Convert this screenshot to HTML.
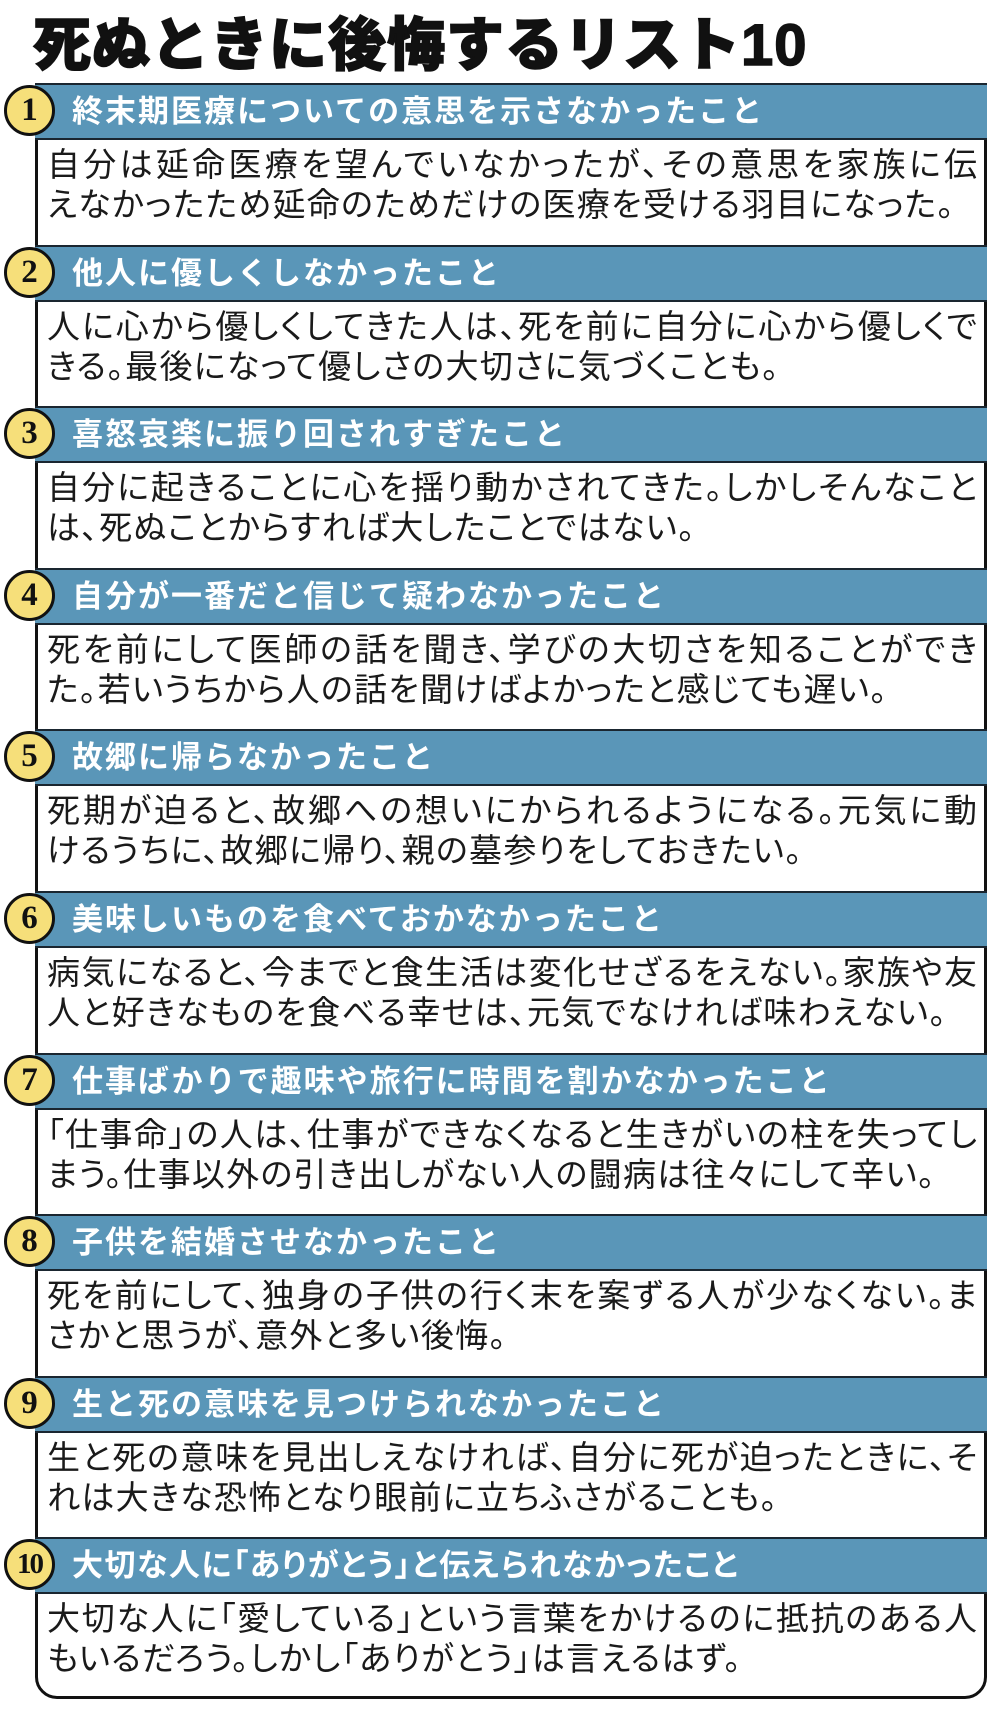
<!DOCTYPE html>
<html><head><meta charset="utf-8"><style>
body{margin:0;width:1000px;height:1716px;background:#fff;position:relative;overflow:hidden;font-family:"Liberation Sans","Noto Sans CJK JP",sans-serif}
.t{position:absolute;left:33px;top:-2px;font-size:58px;font-weight:900;color:#111;letter-spacing:1px;white-space:nowrap;-webkit-text-stroke:1.5px #111}
.box{position:absolute;left:35px;top:83px;width:952px;height:1616px;box-sizing:border-box;border:3px solid #111;border-radius:22px;overflow:hidden}
.h{position:absolute;left:35px;width:952px;height:57px;background:#5a96b8;border-top:2px solid #1a2630;border-bottom:2px solid #1a2630;box-sizing:border-box;color:#fff;font-weight:bold;font-size:31px;line-height:53px;padding-left:37px;letter-spacing:2px;white-space:nowrap}
.h.p{font-feature-settings:"palt";letter-spacing:1.5px}
.c{position:absolute;left:4px;width:45px;height:45px;border:3px solid #111;border-radius:50%;background:#f6df7a;font-family:"Liberation Serif",serif;font-weight:bold;font-size:33px;line-height:45px;text-align:center;color:#111}
.c.s{font-size:29px;letter-spacing:-2px}
.l{position:absolute;left:47px;width:930px;font-size:33px;line-height:40px;color:#1a1a1a;white-space:nowrap;letter-spacing:1.3px;font-feature-settings:"palt"}
.j{text-align:justify;text-align-last:justify;white-space:normal;letter-spacing:0}
</style></head><body>
<div class="t">死ぬときに後悔するリスト10</div>
<div class="box"></div>
<div id="s"></div>
<script>
var d=[
["終末期医療についての意思を示さなかったこと","自分は延命医療を望んでいなかったが、その意思を家族に伝","えなかったため延命のためだけの医療を受ける羽目になった。"],
["他人に優しくしなかったこと","人に心から優しくしてきた人は、死を前に自分に心から優しくで","きる。最後になって優しさの大切さに気づくことも。"],
["喜怒哀楽に振り回されすぎたこと","自分に起きることに心を揺り動かされてきた。しかしそんなこと","は、死ぬことからすれば大したことではない。"],
["自分が一番だと信じて疑わなかったこと","死を前にして医師の話を聞き、学びの大切さを知ることができ","た。若いうちから人の話を聞けばよかったと感じても遅い。"],
["故郷に帰らなかったこと","死期が迫ると、故郷への想いにかられるようになる。元気に動","けるうちに、故郷に帰り、親の墓参りをしておきたい。"],
["美味しいものを食べておかなかったこと","病気になると、今までと食生活は変化せざるをえない。家族や友","人と好きなものを食べる幸せは、元気でなければ味わえない。"],
["仕事ばかりで趣味や旅行に時間を割かなかったこと","「仕事命」の人は、仕事ができなくなると生きがいの柱を失ってし","まう。仕事以外の引き出しがない人の闘病は往々にして辛い。"],
["子供を結婚させなかったこと","死を前にして、独身の子供の行く末を案ずる人が少なくない。ま","さかと思うが、意外と多い後悔。"],
["生と死の意味を見つけられなかったこと","生と死の意味を見出しえなければ、自分に死が迫ったときに、そ","れは大きな恐怖となり眼前に立ちふさがることも。"],
["大切な人に「ありがとう」と伝えられなかったこと","大切な人に「愛している」という言葉をかけるのに抵抗のある人","もいるだろう。しかし「ありがとう」は言えるはず。"]];
var h="";
for(var i=0;i<10;i++){var t=83+i*161.6;
h+='<div class="h'+(i==9?' p':'')+'" style="top:'+t+'px">'+d[i][0]+'</div>';
h+='<div class="c'+(i==9?' s':'')+'" style="top:'+(t+2)+'px">'+(i+1)+'</div>';
h+='<div class="l j" style="top:'+(t+62)+'px;height:40px;overflow:hidden">'+d[i][1]+'</div>';
h+='<div class="l" style="top:'+(t+102)+'px">'+d[i][2]+'</div>';}
document.getElementById("s").innerHTML=h;
</script>
</body></html>
